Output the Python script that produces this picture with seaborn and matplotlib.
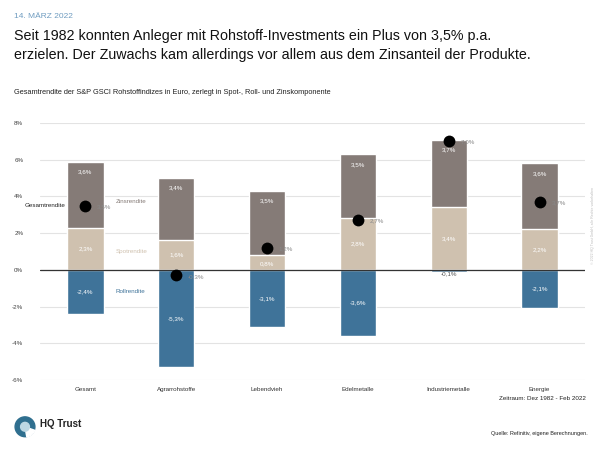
import numpy as np
import pandas as pd
import matplotlib
matplotlib.use("Agg")
import matplotlib.pyplot as plt
from matplotlib.patches import Circle, Wedge
import seaborn as sns

categories = ["Gesamt", "Agrarrohstoffe", "Lebendvieh", "Edelmetalle", "Industriemetalle", "Energie"]
spot = [2.3, 1.6, 0.8, 2.8, 3.4, 2.2]
zins = [3.6, 3.4, 3.5, 3.5, 3.7, 3.6]
roll = [-2.4, -5.3, -3.1, -3.6, -0.1, -2.1]
total = [3.5, -0.3, 1.2, 2.7, 7.0, 3.7]
yticks = [-6, -4, -2, 0, 2, 4, 6, 8]

C_ZINS = "#857b77"
C_SPOT = "#cfc1af"
C_ROLL = "#3f7399"

sns.set_theme(style="white")
plt.rcParams["font.family"] = ["Liberation Sans", "DejaVu Sans"]

df = pd.DataFrame({"cat": categories, "spot": spot, "zins": zins, "roll": roll, "total": total})
df["top"] = df["spot"] + df["zins"]

fig = plt.figure(figsize=(6, 4.5), dpi=100)
ax = fig.add_axes([40/600, 1-380/450, 545/600, 257/450])

sns.barplot(data=df, x="cat", y="top", color=C_ZINS, width=0.4, saturation=1, ax=ax, order=categories)
sns.barplot(data=df, x="cat", y="spot", color=C_SPOT, width=0.4, saturation=1, ax=ax, order=categories)
sns.barplot(data=df, x="cat", y="roll", color=C_ROLL, width=0.4, saturation=1, ax=ax, order=categories)
sns.stripplot(data=df, x="cat", y="total", color="black", size=8.5, jitter=False, ax=ax, order=categories, zorder=5)

ax.set_xlim(-0.5, 5.5)
ax.set_ylim(-6, 8)
ax.set_yticks(yticks)
ax.set_yticklabels([f"{t}%" for t in yticks], fontsize=4.5, color="#444444")
ax.tick_params(axis="y", length=0, pad=12)
ax.tick_params(axis="x", length=0, pad=5, labelsize=4.5, labelcolor="#333333")
ax.set_xlabel("")
ax.set_ylabel("")
for s in ax.spines.values():
    s.set_visible(False)
ax.yaxis.grid(True, color="#e3e3e3", linewidth=0.8)
ax.set_axisbelow(True)
ax.axhline(0, color="#333333", linewidth=0.9, zorder=4)

def fmt(v):
    return f"{v:.1f}%".replace(".", ",")

for i in range(len(categories)):
    top = spot[i] + zins[i]
    ax.text(i, top - 0.55, fmt(zins[i]), ha="center", va="center", fontsize=4.5, color="white")
    ax.text(i, spot[i] / 2 if spot[i] > 1 else spot[i] / 2 - 0.05, fmt(spot[i]), ha="center", va="center", fontsize=4.5, color="white")
    if roll[i] < -0.5:
        ax.text(i, roll[i] / 2, fmt(roll[i]), ha="center", va="center", fontsize=4.5, color="white")
    else:
        ax.text(i, -0.2, fmt(roll[i]), ha="center", va="center", fontsize=4.5, color="#555555")
    ax.text(i + 0.13, total[i] - 0.05, fmt(total[i]), ha="left", va="center", fontsize=4.5, color="#888888", zorder=6)

# inline legend labels
ax.text(0.33, 3.7, "Zinsrendite", fontsize=4.5, color="#857b77", va="center")
ax.text(0.33, 1.0, "Spotrendite", fontsize=4.5, color="#cfc1af", va="center")
ax.text(0.33, -1.2, "Rollrendite", fontsize=4.5, color=C_ROLL, va="center")
ax.text(-0.22, 3.5, "Gesamtrendite", fontsize=4.5, color="#222222", va="center", ha="right", zorder=6)

# header texts
fig.text(14/600, 1-17/450, "14. MÄRZ 2022", fontsize=6, color="#6f9cc0", va="center")
fig.text(14/600, 1-36/450, "Seit 1982 konnten Anleger mit Rohstoff-Investments ein Plus von 3,5% p.a.",
         fontsize=10.3, color="#111111", va="center")
fig.text(14/600, 1-55/450, "erzielen. Der Zuwachs kam allerdings vor allem aus dem Zinsanteil der Produkte.",
         fontsize=10.3, color="#111111", va="center")
fig.text(14/600, 1-92/450, "Gesamtrendite der S&P GSCI Rohstoffindizes in Euro, zerlegt in Spot-, Roll- und Zinskomponente",
         fontsize=5.3, color="#222222", va="center")

# footer
fig.text(586/600, 1-399/450, "Zeitraum: Dez 1982 - Feb 2022", fontsize=4.5, color="#222222", ha="right", va="center")
fig.text(588/600, 1-434/450, "Quelle: Refinitiv, eigene Berechnungen.", fontsize=4, color="#222222", ha="right", va="center")
fig.text(593/600, 1-225/450, "© 2022 HQ Trust GmbH, alle Rechte vorbehalten", fontsize=2.5, color="#bbbbbb",
         rotation=90, ha="center", va="center")

# logo
logo_ax = fig.add_axes([14/600, 1-440/450, 22/600, 26/450])
logo_ax.set_xlim(0, 1); logo_ax.set_ylim(0, 1.18); logo_ax.axis("off")
logo_ax.add_patch(Circle((0.5, 0.6), 0.45, color="#2f6f8f"))
logo_ax.add_patch(Wedge((0.5, 0.6), 0.47, 280, 340, color="white"))
logo_ax.add_patch(Circle((0.5, 0.6), 0.2, color="#bcd7e3"))
fig.text(40/600, 1-424/450, "HQ Trust", fontsize=7, fontweight="bold", color="#222222", va="center")

fig.savefig("out.png", dpi=100)
